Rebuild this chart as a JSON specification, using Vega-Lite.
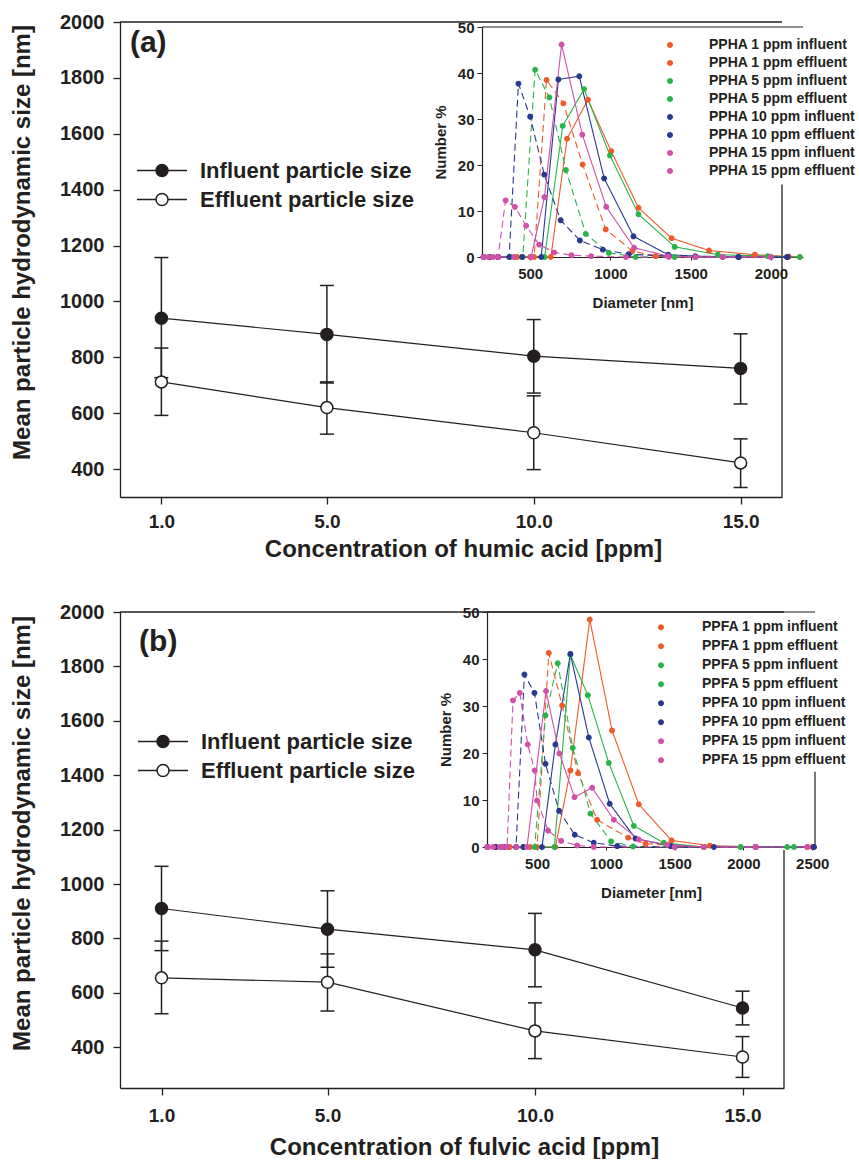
{
"$schema": "https://vega.github.io/schema/vega-lite/v6.json",
"padding": {"top": 12, "left": 10, "right": 0, "bottom": 0},
"spacing": 41,
"config": {
  "view": {"stroke": null},
  "font": "Liberation Sans",
  "axis": {"grid": false, "domainColor": "#231f20", "tickColor": "#231f20", "labelColor": "#231f20", "titleColor": "#231f20", "labelFontWeight": "bold", "titleFontWeight": "bold", "labelFont": "Liberation Sans", "titleFont": "Liberation Sans"},
  "legend": {"labelFont": "Liberation Sans", "labelFontWeight": "bold", "labelColor": "#231f20", "labelLimit": 400}
},
"datasets": {
  "mainA": [
    {"series": "Influent particle size", "conc": 1, "size": 940, "lo": 727, "hi": 1157},
    {"series": "Influent particle size", "conc": 5, "size": 882, "lo": 708, "hi": 1057},
    {"series": "Influent particle size", "conc": 10, "size": 804, "lo": 672, "hi": 935},
    {"series": "Influent particle size", "conc": 15, "size": 760, "lo": 633, "hi": 884},
    {"series": "Effluent particle size", "conc": 1, "size": 712, "lo": 592, "hi": 833},
    {"series": "Effluent particle size", "conc": 5, "size": 620, "lo": 525, "hi": 712},
    {"series": "Effluent particle size", "conc": 10, "size": 530, "lo": 398, "hi": 662},
    {"series": "Effluent particle size", "conc": 15, "size": 422, "lo": 334, "hi": 508}
  ],
  "mainB": [
    {"series": "Influent particle size", "conc": 1, "size": 910, "lo": 755, "hi": 1065},
    {"series": "Influent particle size", "conc": 5, "size": 834, "lo": 694, "hi": 975},
    {"series": "Influent particle size", "conc": 10, "size": 758, "lo": 622, "hi": 892},
    {"series": "Influent particle size", "conc": 15, "size": 544, "lo": 482, "hi": 606},
    {"series": "Effluent particle size", "conc": 1, "size": 655, "lo": 523, "hi": 790},
    {"series": "Effluent particle size", "conc": 5, "size": 639, "lo": 533, "hi": 743},
    {"series": "Effluent particle size", "conc": 10, "size": 460, "lo": 358, "hi": 563},
    {"series": "Effluent particle size", "conc": 15, "size": 364, "lo": 289, "hi": 439}
  ],
  "insetA": [
    {"s": "PPHA 1 ppm influent", "d": 210, "n": 0}, {"s": "PPHA 1 ppm influent", "d": 300, "n": 0}, {"s": "PPHA 1 ppm influent", "d": 400, "n": 0}, {"s": "PPHA 1 ppm influent", "d": 500, "n": 0}, {"s": "PPHA 1 ppm influent", "d": 629, "n": 0}, {"s": "PPHA 1 ppm influent", "d": 730, "n": 25.7}, {"s": "PPHA 1 ppm influent", "d": 860, "n": 34.2}, {"s": "PPHA 1 ppm influent", "d": 1005, "n": 23.0}, {"s": "PPHA 1 ppm influent", "d": 1175, "n": 10.7}, {"s": "PPHA 1 ppm influent", "d": 1381, "n": 4.1}, {"s": "PPHA 1 ppm influent", "d": 1615, "n": 1.4}, {"s": "PPHA 1 ppm influent", "d": 1900, "n": 0.5}, {"s": "PPHA 1 ppm influent", "d": 2111, "n": 0.1}, {"s": "PPHA 1 ppm influent", "d": 2180, "n": 0},
    {"s": "PPHA 1 ppm effluent", "d": 210, "n": 0}, {"s": "PPHA 1 ppm effluent", "d": 300, "n": 0}, {"s": "PPHA 1 ppm effluent", "d": 420, "n": 0}, {"s": "PPHA 1 ppm effluent", "d": 525, "n": 0}, {"s": "PPHA 1 ppm effluent", "d": 602, "n": 38.5}, {"s": "PPHA 1 ppm effluent", "d": 707, "n": 33.4}, {"s": "PPHA 1 ppm effluent", "d": 827, "n": 20.1}, {"s": "PPHA 1 ppm effluent", "d": 971, "n": 6.0}, {"s": "PPHA 1 ppm effluent", "d": 1137, "n": 1.3}, {"s": "PPHA 1 ppm effluent", "d": 1282, "n": 0.2}, {"s": "PPHA 1 ppm effluent", "d": 1530, "n": 0}, {"s": "PPHA 1 ppm effluent", "d": 1800, "n": 0}, {"s": "PPHA 1 ppm effluent", "d": 2100, "n": 0},
    {"s": "PPHA 5 ppm influent", "d": 210, "n": 0}, {"s": "PPHA 5 ppm influent", "d": 300, "n": 0}, {"s": "PPHA 5 ppm influent", "d": 450, "n": 0}, {"s": "PPHA 5 ppm influent", "d": 590, "n": 0}, {"s": "PPHA 5 ppm influent", "d": 703, "n": 28.5}, {"s": "PPHA 5 ppm influent", "d": 836, "n": 36.5}, {"s": "PPHA 5 ppm influent", "d": 997, "n": 22.1}, {"s": "PPHA 5 ppm influent", "d": 1175, "n": 9.3}, {"s": "PPHA 5 ppm influent", "d": 1401, "n": 2.2}, {"s": "PPHA 5 ppm influent", "d": 1669, "n": 0.5}, {"s": "PPHA 5 ppm influent", "d": 1981, "n": 0.2}, {"s": "PPHA 5 ppm influent", "d": 2180, "n": 0},
    {"s": "PPHA 5 ppm effluent", "d": 210, "n": 0}, {"s": "PPHA 5 ppm effluent", "d": 300, "n": 0}, {"s": "PPHA 5 ppm effluent", "d": 380, "n": 0}, {"s": "PPHA 5 ppm effluent", "d": 454, "n": 0}, {"s": "PPHA 5 ppm effluent", "d": 531, "n": 40.7}, {"s": "PPHA 5 ppm effluent", "d": 620, "n": 34.7}, {"s": "PPHA 5 ppm effluent", "d": 723, "n": 18.9}, {"s": "PPHA 5 ppm effluent", "d": 847, "n": 5.0}, {"s": "PPHA 5 ppm effluent", "d": 990, "n": 0.9}, {"s": "PPHA 5 ppm effluent", "d": 1158, "n": 0}, {"s": "PPHA 5 ppm effluent", "d": 1400, "n": 0}, {"s": "PPHA 5 ppm effluent", "d": 1700, "n": 0}, {"s": "PPHA 5 ppm effluent", "d": 2000, "n": 0},
    {"s": "PPHA 10 ppm influent", "d": 210, "n": 0}, {"s": "PPHA 10 ppm influent", "d": 300, "n": 0}, {"s": "PPHA 10 ppm influent", "d": 450, "n": 0}, {"s": "PPHA 10 ppm influent", "d": 569, "n": 0}, {"s": "PPHA 10 ppm influent", "d": 676, "n": 38.6}, {"s": "PPHA 10 ppm influent", "d": 806, "n": 39.3}, {"s": "PPHA 10 ppm influent", "d": 961, "n": 17.1}, {"s": "PPHA 10 ppm influent", "d": 1144, "n": 4.5}, {"s": "PPHA 10 ppm influent", "d": 1360, "n": 0.5}, {"s": "PPHA 10 ppm influent", "d": 1529, "n": 0.2}, {"s": "PPHA 10 ppm influent", "d": 1800, "n": 0}, {"s": "PPHA 10 ppm influent", "d": 2100, "n": 0},
    {"s": "PPHA 10 ppm effluent", "d": 210, "n": 0}, {"s": "PPHA 10 ppm effluent", "d": 250, "n": 0}, {"s": "PPHA 10 ppm effluent", "d": 300, "n": 0}, {"s": "PPHA 10 ppm effluent", "d": 369, "n": 0}, {"s": "PPHA 10 ppm effluent", "d": 427, "n": 37.7}, {"s": "PPHA 10 ppm effluent", "d": 500, "n": 30.5}, {"s": "PPHA 10 ppm effluent", "d": 588, "n": 17.9}, {"s": "PPHA 10 ppm effluent", "d": 690, "n": 8.0}, {"s": "PPHA 10 ppm effluent", "d": 810, "n": 3.6}, {"s": "PPHA 10 ppm effluent", "d": 953, "n": 1.6}, {"s": "PPHA 10 ppm effluent", "d": 1113, "n": 0.6}, {"s": "PPHA 10 ppm effluent", "d": 1364, "n": 0.2}, {"s": "PPHA 10 ppm effluent", "d": 1529, "n": 0}, {"s": "PPHA 10 ppm effluent", "d": 1796, "n": 0}, {"s": "PPHA 10 ppm effluent", "d": 2105, "n": 0},
    {"s": "PPHA 15 ppm influent", "d": 210, "n": 0}, {"s": "PPHA 15 ppm influent", "d": 300, "n": 0}, {"s": "PPHA 15 ppm influent", "d": 400, "n": 0}, {"s": "PPHA 15 ppm influent", "d": 506, "n": 0}, {"s": "PPHA 15 ppm influent", "d": 589, "n": 13.0}, {"s": "PPHA 15 ppm influent", "d": 696, "n": 46.2}, {"s": "PPHA 15 ppm influent", "d": 825, "n": 26.6}, {"s": "PPHA 15 ppm influent", "d": 974, "n": 10.9}, {"s": "PPHA 15 ppm influent", "d": 1148, "n": 2.0}, {"s": "PPHA 15 ppm influent", "d": 1360, "n": 0.2}, {"s": "PPHA 15 ppm influent", "d": 1529, "n": 0}, {"s": "PPHA 15 ppm influent", "d": 1700, "n": 0}, {"s": "PPHA 15 ppm influent", "d": 2000, "n": 0},
    {"s": "PPHA 15 ppm effluent", "d": 210, "n": 0}, {"s": "PPHA 15 ppm effluent", "d": 240, "n": 0}, {"s": "PPHA 15 ppm effluent", "d": 271, "n": 0}, {"s": "PPHA 15 ppm effluent", "d": 300, "n": 0}, {"s": "PPHA 15 ppm effluent", "d": 347, "n": 12.3}, {"s": "PPHA 15 ppm effluent", "d": 405, "n": 10.9}, {"s": "PPHA 15 ppm effluent", "d": 475, "n": 6.8}, {"s": "PPHA 15 ppm effluent", "d": 556, "n": 2.7}, {"s": "PPHA 15 ppm effluent", "d": 650, "n": 1.0}, {"s": "PPHA 15 ppm effluent", "d": 757, "n": 0.4}, {"s": "PPHA 15 ppm effluent", "d": 880, "n": 0.2}, {"s": "PPHA 15 ppm effluent", "d": 1097, "n": 0}, {"s": "PPHA 15 ppm effluent", "d": 1364, "n": 0}, {"s": "PPHA 15 ppm effluent", "d": 1700, "n": 0}, {"s": "PPHA 15 ppm effluent", "d": 2000, "n": 0}
  ],
  "insetB": [
    {"s": "PPFA 1 ppm influent", "d": 140, "n": 0}, {"s": "PPFA 1 ppm influent", "d": 200, "n": 0}, {"s": "PPFA 1 ppm influent", "d": 300, "n": 0}, {"s": "PPFA 1 ppm influent", "d": 450, "n": 0}, {"s": "PPFA 1 ppm influent", "d": 633, "n": 0}, {"s": "PPFA 1 ppm influent", "d": 742, "n": 16.3}, {"s": "PPFA 1 ppm influent", "d": 883, "n": 48.4}, {"s": "PPFA 1 ppm influent", "d": 1045, "n": 24.8}, {"s": "PPFA 1 ppm influent", "d": 1239, "n": 9.1}, {"s": "PPFA 1 ppm influent", "d": 1477, "n": 1.4}, {"s": "PPFA 1 ppm influent", "d": 1756, "n": 0.3}, {"s": "PPFA 1 ppm influent", "d": 2088, "n": 0}, {"s": "PPFA 1 ppm influent", "d": 2464, "n": 0},
    {"s": "PPFA 1 ppm effluent", "d": 140, "n": 0}, {"s": "PPFA 1 ppm effluent", "d": 200, "n": 0}, {"s": "PPFA 1 ppm effluent", "d": 300, "n": 0}, {"s": "PPFA 1 ppm effluent", "d": 400, "n": 0}, {"s": "PPFA 1 ppm effluent", "d": 500, "n": 0}, {"s": "PPFA 1 ppm effluent", "d": 585, "n": 41.3}, {"s": "PPFA 1 ppm effluent", "d": 682, "n": 30.1}, {"s": "PPFA 1 ppm effluent", "d": 798, "n": 15.7}, {"s": "PPFA 1 ppm effluent", "d": 936, "n": 5.8}, {"s": "PPFA 1 ppm effluent", "d": 1162, "n": 2.0}, {"s": "PPFA 1 ppm effluent", "d": 1288, "n": 0.7}, {"s": "PPFA 1 ppm effluent", "d": 1712, "n": 0}, {"s": "PPFA 1 ppm effluent", "d": 2088, "n": 0}, {"s": "PPFA 1 ppm effluent", "d": 2500, "n": 0},
    {"s": "PPFA 5 ppm influent", "d": 140, "n": 0}, {"s": "PPFA 5 ppm influent", "d": 250, "n": 0}, {"s": "PPFA 5 ppm influent", "d": 400, "n": 0}, {"s": "PPFA 5 ppm influent", "d": 626, "n": 0}, {"s": "PPFA 5 ppm influent", "d": 742, "n": 40.9}, {"s": "PPFA 5 ppm influent", "d": 869, "n": 32.3}, {"s": "PPFA 5 ppm influent", "d": 1021, "n": 17.9}, {"s": "PPFA 5 ppm influent", "d": 1203, "n": 4.5}, {"s": "PPFA 5 ppm influent", "d": 1421, "n": 0.9}, {"s": "PPFA 5 ppm influent", "d": 1712, "n": 0}, {"s": "PPFA 5 ppm influent", "d": 1979, "n": 0}, {"s": "PPFA 5 ppm influent", "d": 2318, "n": 0},
    {"s": "PPFA 5 ppm effluent", "d": 140, "n": 0}, {"s": "PPFA 5 ppm effluent", "d": 250, "n": 0}, {"s": "PPFA 5 ppm effluent", "d": 350, "n": 0}, {"s": "PPFA 5 ppm effluent", "d": 483, "n": 0}, {"s": "PPFA 5 ppm effluent", "d": 561, "n": 28.0}, {"s": "PPFA 5 ppm effluent", "d": 650, "n": 39.1}, {"s": "PPFA 5 ppm effluent", "d": 759, "n": 21.1}, {"s": "PPFA 5 ppm effluent", "d": 888, "n": 7.1}, {"s": "PPFA 5 ppm effluent", "d": 1038, "n": 1.2}, {"s": "PPFA 5 ppm effluent", "d": 1198, "n": 0.1}, {"s": "PPFA 5 ppm effluent", "d": 1500, "n": 0}, {"s": "PPFA 5 ppm effluent", "d": 1979, "n": 0}, {"s": "PPFA 5 ppm effluent", "d": 2367, "n": 0},
    {"s": "PPFA 10 ppm influent", "d": 140, "n": 0}, {"s": "PPFA 10 ppm influent", "d": 250, "n": 0}, {"s": "PPFA 10 ppm influent", "d": 400, "n": 0}, {"s": "PPFA 10 ppm influent", "d": 536, "n": 0}, {"s": "PPFA 10 ppm influent", "d": 633, "n": 21.8}, {"s": "PPFA 10 ppm influent", "d": 742, "n": 41.1}, {"s": "PPFA 10 ppm influent", "d": 876, "n": 23.3}, {"s": "PPFA 10 ppm influent", "d": 1028, "n": 9.2}, {"s": "PPFA 10 ppm influent", "d": 1215, "n": 1.8}, {"s": "PPFA 10 ppm influent", "d": 1470, "n": 0.2}, {"s": "PPFA 10 ppm influent", "d": 1785, "n": 0}, {"s": "PPFA 10 ppm influent", "d": 2088, "n": 0}, {"s": "PPFA 10 ppm influent", "d": 2512, "n": 0},
    {"s": "PPFA 10 ppm effluent", "d": 140, "n": 0}, {"s": "PPFA 10 ppm effluent", "d": 200, "n": 0}, {"s": "PPFA 10 ppm effluent", "d": 260, "n": 0}, {"s": "PPFA 10 ppm effluent", "d": 347, "n": 0}, {"s": "PPFA 10 ppm effluent", "d": 408, "n": 36.7}, {"s": "PPFA 10 ppm effluent", "d": 481, "n": 32.8}, {"s": "PPFA 10 ppm effluent", "d": 561, "n": 17.7}, {"s": "PPFA 10 ppm effluent", "d": 660, "n": 7.7}, {"s": "PPFA 10 ppm effluent", "d": 774, "n": 2.6}, {"s": "PPFA 10 ppm effluent", "d": 912, "n": 0.9}, {"s": "PPFA 10 ppm effluent", "d": 1082, "n": 0.2}, {"s": "PPFA 10 ppm effluent", "d": 1500, "n": 0}, {"s": "PPFA 10 ppm effluent", "d": 2088, "n": 0}, {"s": "PPFA 10 ppm effluent", "d": 2512, "n": 0},
    {"s": "PPFA 15 ppm influent", "d": 140, "n": 0}, {"s": "PPFA 15 ppm influent", "d": 250, "n": 0}, {"s": "PPFA 15 ppm influent", "d": 350, "n": 0}, {"s": "PPFA 15 ppm influent", "d": 427, "n": 0}, {"s": "PPFA 15 ppm influent", "d": 565, "n": 33.2}, {"s": "PPFA 15 ppm influent", "d": 662, "n": 19.9}, {"s": "PPFA 15 ppm influent", "d": 772, "n": 10.6}, {"s": "PPFA 15 ppm influent", "d": 900, "n": 12.6}, {"s": "PPFA 15 ppm influent", "d": 1058, "n": 5.8}, {"s": "PPFA 15 ppm influent", "d": 1239, "n": 1.6}, {"s": "PPFA 15 ppm influent", "d": 1445, "n": 0.5}, {"s": "PPFA 15 ppm influent", "d": 1712, "n": 0}, {"s": "PPFA 15 ppm influent", "d": 2088, "n": 0}, {"s": "PPFA 15 ppm influent", "d": 2464, "n": 0},
    {"s": "PPFA 15 ppm effluent", "d": 140, "n": 0}, {"s": "PPFA 15 ppm effluent", "d": 180, "n": 0}, {"s": "PPFA 15 ppm effluent", "d": 230, "n": 0}, {"s": "PPFA 15 ppm effluent", "d": 282, "n": 0}, {"s": "PPFA 15 ppm effluent", "d": 325, "n": 31.2}, {"s": "PPFA 15 ppm effluent", "d": 374, "n": 32.8}, {"s": "PPFA 15 ppm effluent", "d": 432, "n": 21.8}, {"s": "PPFA 15 ppm effluent", "d": 483, "n": 16.3}, {"s": "PPFA 15 ppm effluent", "d": 500, "n": 9.9}, {"s": "PPFA 15 ppm effluent", "d": 580, "n": 3.5}, {"s": "PPFA 15 ppm effluent", "d": 675, "n": 1.3}, {"s": "PPFA 15 ppm effluent", "d": 791, "n": 0.35}, {"s": "PPFA 15 ppm effluent", "d": 912, "n": 0}, {"s": "PPFA 15 ppm effluent", "d": 1500, "n": 0}, {"s": "PPFA 15 ppm effluent", "d": 2088, "n": 0}
  ]
},
"vconcat": [
  {
    "width": 662, "height": 475,
    "layer": [
      {
        "data": {"name": "mainA"},
        "layer": [
          {"data": {"values": [{}]}, "mark": {"type": "rule", "color": "#231f20", "strokeWidth": 1.3},
           "encoding": {"x": {"datum": 0, "type": "quantitative"}, "x2": {"datum": 16}, "y": {"datum": 2000, "type": "quantitative"}}},
          {"data": {"values": [{}]}, "mark": {"type": "rule", "color": "#231f20", "strokeWidth": 1.3},
           "encoding": {"x": {"datum": 16, "type": "quantitative"}, "y": {"datum": 300, "type": "quantitative"}, "y2": {"datum": 1418}}},
          {"mark": {"type": "line", "color": "#231f20", "strokeWidth": 1.2},
           "encoding": {
             "x": {"field": "conc", "type": "quantitative", "scale": {"domain": [0, 16], "nice": false, "zero": false},
                   "axis": {"orient": "bottom", "values": [1, 5, 10, 15], "format": ".1f", "title": "Concentration of humic acid [ppm]", "labelFontSize": 19, "titleFontSize": 24, "tickSize": 7, "labelPadding": 8, "titlePadding": 6, "domainWidth": 1.3, "tickWidth": 1.3, "titleX": 343}},
             "y": {"field": "size", "type": "quantitative", "scale": {"domain": [300, 2000], "nice": false, "zero": false},
                   "axis": {"orient": "left", "values": [400, 600, 800, 1000, 1200, 1400, 1600, 1800, 2000], "format": "d", "title": "Mean particle hydrodynamic size [nm]", "labelFontSize": 20, "titleFontSize": 24, "tickSize": 7, "labelPadding": 9, "titlePadding": 25, "domainWidth": 1.3, "tickWidth": 1.3, "titleY": 220}},
             "detail": {"field": "series", "type": "nominal"}}},
          {"mark": {"type": "rule", "color": "#231f20", "strokeWidth": 1.5},
           "encoding": {"x": {"field": "conc", "type": "quantitative"}, "y": {"field": "lo", "type": "quantitative"}, "y2": {"field": "hi"}}},
          {"mark": {"type": "tick", "orient": "horizontal", "size": 14, "thickness": 1.5, "color": "#231f20", "opacity": 1},
           "encoding": {"x": {"field": "conc", "type": "quantitative"}, "y": {"field": "lo", "type": "quantitative"}}},
          {"mark": {"type": "tick", "orient": "horizontal", "size": 14, "thickness": 1.5, "color": "#231f20", "opacity": 1},
           "encoding": {"x": {"field": "conc", "type": "quantitative"}, "y": {"field": "hi", "type": "quantitative"}}},
          {"mark": {"type": "point", "filled": true, "stroke": "#231f20", "strokeWidth": 1.5, "size": 144, "opacity": 1},
           "encoding": {"x": {"field": "conc", "type": "quantitative"}, "y": {"field": "size", "type": "quantitative"},
             "fill": {"field": "series", "type": "nominal", "scale": {"domain": ["Influent particle size", "Effluent particle size"], "range": ["#231f20", "white"]},
               "legend": {"title": null, "orient": "none", "legendX": 16, "legendY": 134, "symbolType": "M-1,0L-0.24,0M0.24,0L1,0M0.24,0A0.24,0.24 0 1,1 -0.24,0A0.24,0.24 0 1,1 0.24,0", "symbolSize": 2500, "clipHeight": 29, "labelFontSize": 22, "labelOffset": 12, "labelLimit": 400, "rowPadding": 0, "padding": 0, "symbolStrokeWidth": 1.5, "symbolStrokeColor": "#231f20"}}}},
          {"data": {"values": [{}]}, "mark": {"type": "text", "text": "(a)", "fontSize": 30, "fontWeight": "bold", "align": "left", "baseline": "middle", "color": "#231f20"},
           "encoding": {"x": {"datum": 0.24, "type": "quantitative"}, "y": {"datum": 1925, "type": "quantitative"}}}
        ]
      },
      {
        "data": {"name": "insetA"},
        "layer": [
          {"data": {"values": [{}]}, "mark": {"type": "rule", "color": "#231f20", "strokeWidth": 1.2},
           "encoding": {"x": {"datum": 200, "type": "quantitative"}, "x2": {"datum": 2200}, "y": {"datum": 50, "type": "quantitative"}}},
          {"mark": {"type": "line", "strokeWidth": 1.1},
           "encoding": {
             "x": {"field": "d", "type": "quantitative", "scale": {"domain": [200, 2200], "range": [362, 683], "nice": false, "zero": false},
                   "axis": {"orient": "bottom", "offset": -240, "values": [500, 1000, 1500, 2000], "format": "d", "title": "Diameter [nm]", "labelFontSize": 15, "titleFontSize": 15, "tickSize": 3, "labelPadding": 6, "titlePadding": 14, "domainWidth": 1.2}},
             "y": {"field": "n", "type": "quantitative", "scale": {"domain": [0, 50], "range": [235, 5], "nice": false, "zero": false},
                   "axis": {"orient": "left", "offset": -362, "values": [0, 10, 20, 30, 40, 50], "title": "Number %", "labelFontSize": 15, "titleFontSize": 15, "tickSize": 5, "labelPadding": 3, "titlePadding": 9, "domainWidth": 1.2}},
             "color": {"field": "s", "type": "nominal", "legend": null,
               "scale": {"domain": ["PPHA 1 ppm influent", "PPHA 1 ppm effluent", "PPHA 5 ppm influent", "PPHA 5 ppm effluent", "PPHA 10 ppm influent", "PPHA 10 ppm effluent", "PPHA 15 ppm influent", "PPHA 15 ppm effluent"],
                         "range": ["#f05a28", "#f05a28", "#2ab34b", "#2ab34b", "#283891", "#283891", "#d150a8", "#d150a8"]}},
             "strokeDash": {"field": "s", "type": "nominal", "legend": null,
               "scale": {"domain": ["PPHA 1 ppm influent", "PPHA 1 ppm effluent", "PPHA 5 ppm influent", "PPHA 5 ppm effluent", "PPHA 10 ppm influent", "PPHA 10 ppm effluent", "PPHA 15 ppm influent", "PPHA 15 ppm effluent"],
                         "range": [[1, 0], [7, 4], [1, 0], [7, 4], [1, 0], [7, 4], [1, 0], [7, 4]]}}}},
          {"mark": {"type": "point", "filled": true, "size": 22, "strokeWidth": 1.2, "opacity": 1},
           "encoding": {
             "x": {"field": "d", "type": "quantitative"},
             "y": {"field": "n", "type": "quantitative"},
             "fill": {"field": "s", "type": "nominal",
               "scale": {"domain": ["PPHA 1 ppm influent", "PPHA 1 ppm effluent", "PPHA 5 ppm influent", "PPHA 5 ppm effluent", "PPHA 10 ppm influent", "PPHA 10 ppm effluent", "PPHA 15 ppm influent", "PPHA 15 ppm effluent"],
                         "range": ["#f05a28", "#f05a28", "#2ab34b", "#2ab34b", "#283891", "#283891", "#d150a8", "#d150a8"]},
               "legend": {"title": null, "orient": "none", "legendX": 524, "legendY": 14, "symbolType": "M-1,0L1,0M0.12,0A0.12,0.12 0 1,1 -0.12,0A0.12,0.12 0 1,1 0.12,0", "symbolSize": 2500, "clipHeight": 18, "labelFontSize": 14, "labelOffset": 13, "rowPadding": 0, "padding": 0, "fillColor": "white", "symbolStrokeWidth": 1.2,
                 "encode": {"symbols": {
                   "stroke": {"condition": [{"test": "indexof(datum.value, ' 1 ppm') >= 0", "value": "#f05a28"}, {"test": "indexof(datum.value, ' 5 ppm') >= 0", "value": "#2ab34b"}, {"test": "indexof(datum.value, ' 10 ppm') >= 0", "value": "#283891"}], "value": "#d150a8"},
                   "strokeDash": {"condition": {"test": "indexof(datum.value, 'effluent') >= 0", "value": [7, 4]}, "value": [1, 0]},
                   "strokeWidth": {"value": 1.2}}}}},
             "stroke": {"field": "s", "type": "nominal", "legend": null,
               "scale": {"domain": ["PPHA 1 ppm influent", "PPHA 1 ppm effluent", "PPHA 5 ppm influent", "PPHA 5 ppm effluent", "PPHA 10 ppm influent", "PPHA 10 ppm effluent", "PPHA 15 ppm influent", "PPHA 15 ppm effluent"],
                         "range": ["#f05a28", "#f05a28", "#2ab34b", "#2ab34b", "#283891", "#283891", "#d150a8", "#d150a8"]}}}}
        ]
      }
    ],
    "resolve": {"scale": {"x": "independent", "y": "independent", "fill": "independent"}, "axis": {"x": "independent", "y": "independent"}, "legend": {"fill": "independent"}}
  },
  {
    "width": 664, "height": 476,
    "layer": [
      {
        "data": {"name": "mainB"},
        "layer": [
          {"data": {"values": [{}]}, "mark": {"type": "rule", "color": "#231f20", "strokeWidth": 1.3},
           "encoding": {"x": {"datum": 0, "type": "quantitative"}, "x2": {"datum": 16}, "y": {"datum": 2000, "type": "quantitative"}}},
          {"data": {"values": [{}]}, "mark": {"type": "rule", "color": "#231f20", "strokeWidth": 1.3},
           "encoding": {"x": {"datum": 16, "type": "quantitative"}, "y": {"datum": 250, "type": "quantitative"}, "y2": {"datum": 1125}}},
          {"mark": {"type": "line", "color": "#231f20", "strokeWidth": 1.2},
           "encoding": {
             "x": {"field": "conc", "type": "quantitative", "scale": {"domain": [0, 16], "nice": false, "zero": false},
                   "axis": {"orient": "bottom", "values": [1, 5, 10, 15], "format": ".1f", "title": "Concentration of fulvic acid [ppm]", "labelFontSize": 19, "titleFontSize": 24, "tickSize": 7, "labelPadding": 11, "titlePadding": 10, "domainWidth": 1.3, "tickWidth": 1.3, "titleX": 344}},
             "y": {"field": "size", "type": "quantitative", "scale": {"domain": [250, 2000], "nice": false, "zero": false},
                   "axis": {"orient": "left", "values": [400, 600, 800, 1000, 1200, 1400, 1600, 1800, 2000], "format": "d", "title": "Mean particle hydrodynamic size [nm]", "labelFontSize": 20, "titleFontSize": 24, "tickSize": 7, "labelPadding": 9, "titlePadding": 25, "domainWidth": 1.3, "tickWidth": 1.3, "titleY": 221}},
             "detail": {"field": "series", "type": "nominal"}}},
          {"mark": {"type": "rule", "color": "#231f20", "strokeWidth": 1.5},
           "encoding": {"x": {"field": "conc", "type": "quantitative"}, "y": {"field": "lo", "type": "quantitative"}, "y2": {"field": "hi"}}},
          {"mark": {"type": "tick", "orient": "horizontal", "size": 14, "thickness": 1.5, "color": "#231f20", "opacity": 1},
           "encoding": {"x": {"field": "conc", "type": "quantitative"}, "y": {"field": "lo", "type": "quantitative"}}},
          {"mark": {"type": "tick", "orient": "horizontal", "size": 14, "thickness": 1.5, "color": "#231f20", "opacity": 1},
           "encoding": {"x": {"field": "conc", "type": "quantitative"}, "y": {"field": "hi", "type": "quantitative"}}},
          {"mark": {"type": "point", "filled": true, "stroke": "#231f20", "strokeWidth": 1.5, "size": 144, "opacity": 1},
           "encoding": {"x": {"field": "conc", "type": "quantitative"}, "y": {"field": "size", "type": "quantitative"},
             "fill": {"field": "series", "type": "nominal", "scale": {"domain": ["Influent particle size", "Effluent particle size"], "range": ["#231f20", "white"]},
               "legend": {"title": null, "orient": "none", "legendX": 17, "legendY": 115, "symbolType": "M-1,0L-0.24,0M0.24,0L1,0M0.24,0A0.24,0.24 0 1,1 -0.24,0A0.24,0.24 0 1,1 0.24,0", "symbolSize": 2500, "clipHeight": 29, "labelFontSize": 22, "labelOffset": 12, "labelLimit": 400, "rowPadding": 0, "padding": 0, "symbolStrokeWidth": 1.5, "symbolStrokeColor": "#231f20"}}}},
          {"data": {"values": [{}]}, "mark": {"type": "text", "text": "(b)", "fontSize": 30, "fontWeight": "bold", "align": "left", "baseline": "middle", "color": "#231f20"},
           "encoding": {"x": {"datum": 0.46, "type": "quantitative"}, "y": {"datum": 1890, "type": "quantitative"}}}
        ]
      },
      {
        "data": {"name": "insetB"},
        "layer": [
          {"data": {"values": [{}]}, "mark": {"type": "rule", "color": "#231f20", "strokeWidth": 1.2},
           "encoding": {"x": {"datum": 136, "type": "quantitative"}, "x2": {"datum": 2520}, "y": {"datum": 50, "type": "quantitative"}}},
          {"data": {"values": [{}]}, "mark": {"type": "rule", "color": "#231f20", "strokeWidth": 1.2},
           "encoding": {"x": {"datum": 2520, "type": "quantitative"}, "y": {"datum": 0, "type": "quantitative"}, "y2": {"datum": 16}}},
          {"mark": {"type": "line", "strokeWidth": 1.1},
           "encoding": {
             "x": {"field": "d", "type": "quantitative", "scale": {"domain": [136, 2520], "range": [367, 695], "nice": false, "zero": false},
                   "axis": {"orient": "bottom", "offset": -241, "values": [500, 1000, 1500, 2000, 2500], "format": "d", "title": "Diameter [nm]", "labelFontSize": 15, "titleFontSize": 15, "tickSize": 3, "labelPadding": 6, "titlePadding": 14, "domainWidth": 1.2}},
             "y": {"field": "n", "type": "quantitative", "scale": {"domain": [0, 50], "range": [235, 0], "nice": false, "zero": false},
                   "axis": {"orient": "left", "offset": -367, "values": [0, 10, 20, 30, 40, 50], "title": "Number %", "labelFontSize": 15, "titleFontSize": 15, "tickSize": 5, "labelPadding": 3, "titlePadding": 9, "domainWidth": 1.2}},
             "color": {"field": "s", "type": "nominal", "legend": null,
               "scale": {"domain": ["PPFA 1 ppm influent", "PPFA 1 ppm effluent", "PPFA 5 ppm influent", "PPFA 5 ppm effluent", "PPFA 10 ppm influent", "PPFA 10 ppm effluent", "PPFA 15 ppm influent", "PPFA 15 ppm effluent"],
                         "range": ["#f05a28", "#f05a28", "#2ab34b", "#2ab34b", "#283891", "#283891", "#d150a8", "#d150a8"]}},
             "strokeDash": {"field": "s", "type": "nominal", "legend": null,
               "scale": {"domain": ["PPFA 1 ppm influent", "PPFA 1 ppm effluent", "PPFA 5 ppm influent", "PPFA 5 ppm effluent", "PPFA 10 ppm influent", "PPFA 10 ppm effluent", "PPFA 15 ppm influent", "PPFA 15 ppm effluent"],
                         "range": [[1, 0], [7, 4], [1, 0], [7, 4], [1, 0], [7, 4], [1, 0], [7, 4]]}}}},
          {"mark": {"type": "point", "filled": true, "size": 22, "strokeWidth": 1.2, "opacity": 1},
           "encoding": {
             "x": {"field": "d", "type": "quantitative"},
             "y": {"field": "n", "type": "quantitative"},
             "fill": {"field": "s", "type": "nominal",
               "scale": {"domain": ["PPFA 1 ppm influent", "PPFA 1 ppm effluent", "PPFA 5 ppm influent", "PPFA 5 ppm effluent", "PPFA 10 ppm influent", "PPFA 10 ppm effluent", "PPFA 15 ppm influent", "PPFA 15 ppm effluent"],
                         "range": ["#f05a28", "#f05a28", "#2ab34b", "#2ab34b", "#283891", "#283891", "#d150a8", "#d150a8"]},
               "legend": {"title": null, "orient": "none", "legendX": 515, "legendY": 6, "symbolType": "M-1,0L1,0M0.12,0A0.12,0.12 0 1,1 -0.12,0A0.12,0.12 0 1,1 0.12,0", "symbolSize": 2500, "clipHeight": 18.3, "labelFontSize": 14, "labelOffset": 15, "rowPadding": 0, "padding": 0, "fillColor": "white", "symbolStrokeWidth": 1.2,
                 "encode": {"symbols": {
                   "stroke": {"condition": [{"test": "indexof(datum.value, ' 1 ppm') >= 0", "value": "#f05a28"}, {"test": "indexof(datum.value, ' 5 ppm') >= 0", "value": "#2ab34b"}, {"test": "indexof(datum.value, ' 10 ppm') >= 0", "value": "#283891"}], "value": "#d150a8"},
                   "strokeDash": {"condition": {"test": "indexof(datum.value, 'effluent') >= 0", "value": [7, 4]}, "value": [1, 0]},
                   "strokeWidth": {"value": 1.2}}}}},
             "stroke": {"field": "s", "type": "nominal", "legend": null,
               "scale": {"domain": ["PPFA 1 ppm influent", "PPFA 1 ppm effluent", "PPFA 5 ppm influent", "PPFA 5 ppm effluent", "PPFA 10 ppm influent", "PPFA 10 ppm effluent", "PPFA 15 ppm influent", "PPFA 15 ppm effluent"],
                         "range": ["#f05a28", "#f05a28", "#2ab34b", "#2ab34b", "#283891", "#283891", "#d150a8", "#d150a8"]}}}}
        ]
      }
    ],
    "resolve": {"scale": {"x": "independent", "y": "independent", "fill": "independent"}, "axis": {"x": "independent", "y": "independent"}, "legend": {"fill": "independent"}}
  }
],
"resolve": {"scale": {"fill": "independent", "color": "independent", "stroke": "independent", "strokeDash": "independent"}, "legend": {"fill": "independent", "color": "independent", "stroke": "independent", "strokeDash": "independent"}}
}
